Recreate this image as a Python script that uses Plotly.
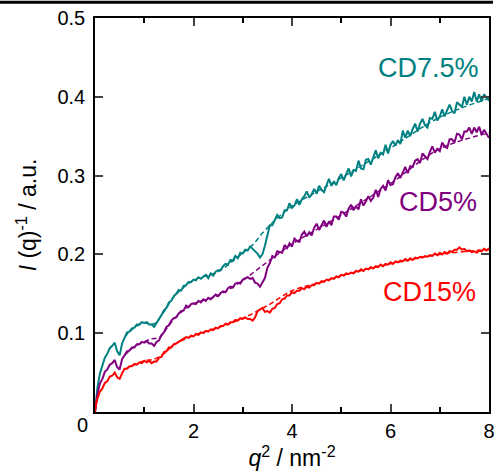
import plotly.graph_objects as go

# q^2 sampling grid (nm^-2)
q2 = [0, 0.02,
      0.05, 0.10, 0.15, 0.20, 0.25, 0.30, 0.35, 0.40, 0.45, 0.50,
      0.55, 0.60, 0.65, 0.70, 0.75, 0.80, 0.85, 0.90, 0.95, 1.00,
      1.05, 1.10, 1.15, 1.20, 1.25, 1.30, 1.35, 1.40, 1.45, 1.50,
      1.55, 1.60, 1.65, 1.70, 1.75, 1.80, 1.85, 1.90, 1.95, 2.00,
      2.05, 2.10, 2.15, 2.20, 2.25, 2.30, 2.35, 2.40, 2.45, 2.50,
      2.55, 2.60, 2.65, 2.70, 2.75, 2.80, 2.85, 2.90, 2.95, 3.00,
      3.05, 3.10, 3.15, 3.20, 3.25, 3.30, 3.35, 3.40, 3.45, 3.50,
      3.55, 3.60, 3.65, 3.70, 3.75, 3.80, 3.85, 3.90, 3.95, 4.00,
      4.05, 4.10, 4.15, 4.20, 4.25, 4.30, 4.35, 4.40, 4.45, 4.50,
      4.55, 4.60, 4.65, 4.70, 4.75, 4.80, 4.85, 4.90, 4.95, 5.00,
      5.05, 5.10, 5.15, 5.20, 5.25, 5.30, 5.35, 5.40, 5.45, 5.50,
      5.55, 5.60, 5.65, 5.70, 5.75, 5.80, 5.85, 5.90, 5.95, 6.00,
      6.05, 6.10, 6.15, 6.20, 6.25, 6.30, 6.35, 6.40, 6.45, 6.50,
      6.55, 6.60, 6.65, 6.70, 6.75, 6.80, 6.85, 6.90, 6.95, 7.00,
      7.05, 7.10, 7.15, 7.20, 7.25, 7.30, 7.35, 7.40, 7.45, 7.50,
      7.55, 7.60, 7.65, 7.70, 7.75, 7.80, 7.85, 7.90, 7.95, 8.00]

# CD7.5% : I(q)^-1
cd75 = [0, 0.017,
        0.031, 0.049, 0.059, 0.069, 0.074, 0.081, 0.084, 0.088, 0.077, 0.072,
        0.087, 0.094, 0.101, 0.102, 0.106, 0.107, 0.111, 0.111, 0.114, 0.113,
        0.114, 0.111, 0.111, 0.108, 0.113, 0.117, 0.123, 0.129, 0.132, 0.139,
        0.141, 0.147, 0.150, 0.155, 0.154, 0.160, 0.161, 0.165, 0.165, 0.168,
        0.167, 0.171, 0.169, 0.172, 0.174, 0.170, 0.176, 0.173, 0.178, 0.180,
        0.180, 0.185, 0.188, 0.187, 0.193, 0.192, 0.198, 0.195, 0.202, 0.201,
        0.206, 0.205, 0.210, 0.207, 0.204, 0.201, 0.196, 0.200, 0.211, 0.223,
        0.237, 0.237, 0.243, 0.250, 0.246, 0.247, 0.256, 0.256, 0.265, 0.259,
        0.262, 0.270, 0.263, 0.270, 0.274, 0.280, 0.272, 0.276, 0.283, 0.277,
        0.287, 0.282, 0.279, 0.289, 0.296, 0.287, 0.292, 0.288, 0.297, 0.302,
        0.294, 0.302, 0.309, 0.299, 0.307, 0.306, 0.319, 0.309, 0.308, 0.320,
        0.321, 0.314, 0.324, 0.332, 0.322, 0.329, 0.327, 0.339, 0.328, 0.339,
        0.344, 0.338, 0.345, 0.340, 0.357, 0.348, 0.357, 0.350, 0.359, 0.366,
        0.356, 0.366, 0.372, 0.364, 0.361, 0.373, 0.372, 0.381, 0.370, 0.375,
        0.384, 0.375, 0.383, 0.390, 0.382, 0.379, 0.393, 0.390, 0.387, 0.400,
        0.390, 0.400, 0.394, 0.406, 0.394, 0.403, 0.394, 0.403, 0.399, 0.395]

# CD5%
cd5 = [0, 0.013,
       0.023, 0.036, 0.042, 0.051, 0.054, 0.060, 0.062, 0.066, 0.057, 0.054,
       0.067, 0.072, 0.077, 0.078, 0.082, 0.082, 0.086, 0.086, 0.089, 0.088,
       0.090, 0.087, 0.087, 0.084, 0.089, 0.091, 0.098, 0.101, 0.108, 0.110,
       0.116, 0.119, 0.120, 0.125, 0.128, 0.129, 0.135, 0.133, 0.137, 0.138,
       0.137, 0.141, 0.139, 0.143, 0.141, 0.145, 0.143, 0.146, 0.149, 0.147,
       0.151, 0.153, 0.152, 0.157, 0.159, 0.158, 0.163, 0.164, 0.163, 0.168,
       0.169, 0.171, 0.169, 0.170, 0.164, 0.163, 0.159, 0.164, 0.170, 0.183,
       0.189, 0.198, 0.196, 0.204, 0.203, 0.202, 0.212, 0.208, 0.214, 0.210,
       0.220, 0.217, 0.216, 0.225, 0.229, 0.223, 0.228, 0.224, 0.234, 0.239,
       0.231, 0.238, 0.243, 0.235, 0.242, 0.237, 0.248, 0.248, 0.244, 0.254,
       0.253, 0.248, 0.258, 0.263, 0.256, 0.261, 0.257, 0.270, 0.262, 0.267,
       0.274, 0.268, 0.272, 0.282, 0.273, 0.283, 0.287, 0.281, 0.294, 0.288,
       0.289, 0.298, 0.303, 0.297, 0.304, 0.311, 0.303, 0.312, 0.311, 0.319,
       0.321, 0.316, 0.328, 0.325, 0.321, 0.330, 0.337, 0.329, 0.334, 0.331,
       0.342, 0.337, 0.335, 0.346, 0.346, 0.342, 0.353, 0.352, 0.346, 0.356,
       0.356, 0.361, 0.353, 0.361, 0.355, 0.362, 0.352, 0.358, 0.352, 0.348]

# CD15%
cd15 = [0, 0.010,
        0.017, 0.026, 0.030, 0.037, 0.039, 0.045, 0.046, 0.050, 0.044, 0.042,
        0.049, 0.055, 0.055, 0.058, 0.058, 0.061, 0.060, 0.063, 0.062, 0.065,
        0.063, 0.065, 0.062, 0.064, 0.064, 0.069, 0.070, 0.076, 0.077, 0.082,
        0.082, 0.086, 0.087, 0.089, 0.091, 0.092, 0.095, 0.094, 0.097, 0.096,
        0.099, 0.098, 0.101, 0.100, 0.103, 0.102, 0.105, 0.104, 0.107, 0.106,
        0.109, 0.109, 0.112, 0.111, 0.114, 0.114, 0.117, 0.116, 0.119, 0.118,
        0.120, 0.118, 0.118, 0.116, 0.120, 0.128, 0.130, 0.132, 0.127, 0.128,
        0.126, 0.131, 0.132, 0.137, 0.138, 0.143, 0.144, 0.148, 0.148, 0.152,
        0.151, 0.154, 0.154, 0.157, 0.156, 0.159, 0.158, 0.161, 0.161, 0.164,
        0.163, 0.166, 0.165, 0.168, 0.167, 0.170, 0.169, 0.172, 0.171, 0.174,
        0.173, 0.176, 0.175, 0.177, 0.176, 0.179, 0.178, 0.181, 0.179, 0.182,
        0.181, 0.184, 0.182, 0.185, 0.184, 0.187, 0.185, 0.188, 0.187, 0.190,
        0.188, 0.191, 0.190, 0.192, 0.191, 0.194, 0.192, 0.195, 0.193, 0.196,
        0.195, 0.197, 0.196, 0.198, 0.197, 0.199, 0.198, 0.201, 0.199, 0.202,
        0.200, 0.203, 0.201, 0.204, 0.203, 0.206, 0.206, 0.209, 0.206, 0.207,
        0.204, 0.205, 0.203, 0.204, 0.202, 0.205, 0.204, 0.207, 0.205, 0.208]

# fitted curves (dashed)
fit75_q = [0.6, 0.8, 1.0, 1.2, 1.4, 1.6, 2.0, 2.5, 3.0, 3.2, 3.4, 3.6, 4.0, 5.0, 6.0, 7.0, 8.0]
fit75 = [0.095, 0.107, 0.113, 0.112, 0.127, 0.146, 0.167, 0.178, 0.202, 0.212, 0.227, 0.240, 0.261, 0.297, 0.335, 0.374, 0.398]
fit5_q = [0.6, 0.8, 1.0, 1.15, 1.3, 1.4, 1.5, 1.7, 2.0, 2.5, 3.0, 3.3, 3.6, 4.0, 5.0, 6.0, 7.0, 8.0]
fit5 = [0.072, 0.083, 0.089, 0.093, 0.094, 0.101, 0.110, 0.124, 0.137, 0.148, 0.167, 0.181, 0.195, 0.213, 0.250, 0.290, 0.334, 0.354]
fit15_q = [0.6, 0.8, 1.0, 1.2, 1.4, 1.6, 2.0, 2.5, 3.0, 3.5, 4.0, 4.3, 4.6, 5.0, 6.0, 7.0, 8.0]
fit15 = [0.054, 0.060, 0.065, 0.067, 0.074, 0.085, 0.097, 0.107, 0.119, 0.135, 0.154, 0.160, 0.165, 0.173, 0.188, 0.200, 0.206]

labels = ["CD7.5%", "CD5%", "CD15%"]
colors = ["#008080", "#800080", "#ff0000"]

FONT = "Liberation Sans, Arial, sans-serif"

fig = go.Figure()

# dashed fits under the data
for fq, fv, c in [(fit75_q, fit75, colors[0]), (fit5_q, fit5, colors[1]), (fit15_q, fit15, colors[2])]:
    fig.add_trace(go.Scatter(x=fq, y=fv, mode="lines",
                             line=dict(color=c, width=1.5, dash="5px,3px", shape="spline"),
                             showlegend=False, hoverinfo="skip"))

# measured data
for ys, c in [(cd75, colors[0]), (cd5, colors[1]), (cd15, colors[2])]:
    fig.add_trace(go.Scatter(x=q2, y=ys, mode="lines", line=dict(color=c, width=2), showlegend=False))

# curve labels
label_pos = [(6.78, 0.4365), (6.96, 0.2665), (6.80, 0.152)]
for t, (lx, ly), c in zip(labels, label_pos, colors):
    fig.add_annotation(x=lx, y=ly, xref="x", yref="y", text=t, showarrow=False,
                       font=dict(family=FONT, size=27, color=c), xanchor="center", yanchor="middle")

# shared origin label
fig.add_annotation(x=-0.032, y=-0.033, xref="paper", yref="paper", text="0", showarrow=False,
                   font=dict(family=FONT, size=20, color="black"), xanchor="center", yanchor="middle")

fig.update_layout(
    width=497, height=473,
    margin=dict(l=95, r=8, t=18, b=61),
    plot_bgcolor="white", paper_bgcolor="white",
    font=dict(family=FONT, size=20, color="black"),
    # black rule along the top of the page
    shapes=[dict(type="line", xref="paper", yref="paper", x0=-0.245, x1=1.01, y0=1.04, y1=1.04,
                 line=dict(color="black", width=3), layer="above")],
    xaxis=dict(
        range=[0, 8], tickvals=[2, 4, 6, 8], ticks="inside", ticklen=8, tickwidth=1.5,
        showline=True, linecolor="black", linewidth=1.5, mirror="ticks", showgrid=False, zeroline=False,
        minor=dict(tickvals=[1, 3, 5, 7], ticks="inside", ticklen=5, tickwidth=1.5, tickcolor="black"),
        tickfont=dict(size=20), automargin=False,
        title=dict(text="<i>q</i><sup>2</sup> / nm<sup>-2</sup>", font=dict(size=23), standoff=4),
    ),
    yaxis=dict(
        range=[0, 0.5], tickvals=[0.1, 0.2, 0.3, 0.4, 0.5], ticktext=["0.1", "0.2", "0.3", "0.4", "0.5"],
        ticks="inside", ticklen=8, tickwidth=1.5, ticklabelstandoff=4,
        showline=True, linecolor="black", linewidth=1.5, mirror="ticks", showgrid=False, zeroline=False,
        tickfont=dict(size=20), automargin=False,
        title=dict(text="<i>I</i> (q)<sup>-1</sup> / a.u.", font=dict(size=23), standoff=14),
    ),
)

# drop the default page margin so the figure sits at the window's corner
fig.write_html("out.html", config={"displayModeBar": False},
               post_script="document.body.style.margin='0';")
